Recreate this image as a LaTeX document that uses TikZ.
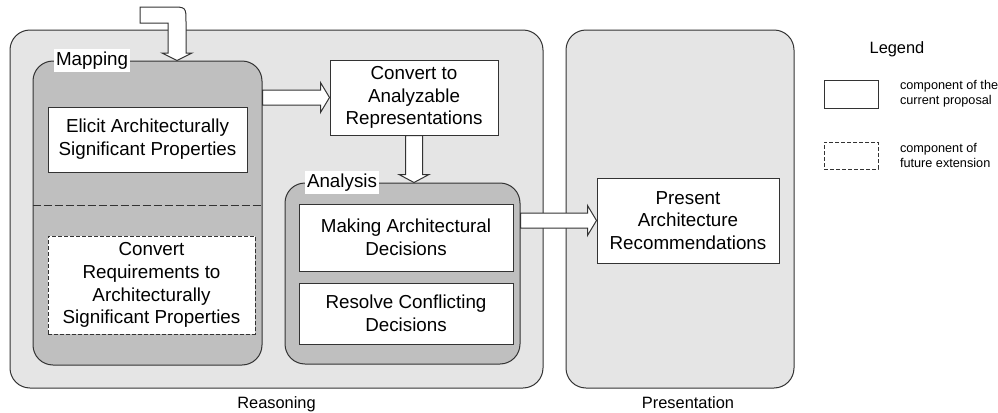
\documentclass[tikz,border=0pt]{standalone}
\usepackage{fontspec}
\setmainfont{Liberation Sans}
\usetikzlibrary{calc,positioning}

\begin{document}
\begin{tikzpicture}[x=0.5pt,y=-0.5pt,line width=0.5pt,
  font=\fontsize{9.4}{11.4}\selectfont,
  stage/.style={draw=black!80,fill=black!10,rounded corners=10pt,inner sep=0pt},
  group/.style={draw=black!80,fill=black!25,rounded corners=10pt,inner sep=0pt},
  comp/.style={draw=black!80,fill=white,align=center,inner sep=0pt},
  future/.style={comp,dash pattern=on 2pt off 1pt},
  tag/.style={fill=white,inner xsep=1pt,inner ysep=1.5pt,anchor=west},
  caption/.style={inner sep=0pt,anchor=north,font=\fontsize{8.2}{10}\selectfont},
  note/.style={inner sep=0pt,align=left,font=\fontsize{6.35}{7.5}\selectfont},
  fatline/.style={draw=black!80,fill=white,line join=miter},
  hfat/.style={fatline,to path={let \p1=(\tikztostart),\p2=(\tikztotarget) in
    (\x1,\y2+3.75pt) -- (\x2-4.5pt,\y2+3.75pt) -- (\x2-4.5pt,\y2+7.5pt) -- (\x2,\y2)
    -- (\x2-4.5pt,\y2-7.5pt) -- (\x2-4.5pt,\y2-3.75pt) -- (\x1,\y2-3.75pt) -- cycle}},
  vfat/.style={fatline,to path={let \p1=(\tikztostart),\p2=(\tikztotarget) in
    (\x2-4.25pt,\y1) -- (\x2-4.25pt,\y2+4pt) -- (\x2-7.5pt,\y2+4pt) -- (\x2,\y2)
    -- (\x2+7.5pt,\y2+4pt) -- (\x2+4.25pt,\y2+4pt) -- (\x2+4.25pt,\y1) -- cycle}}]
  \useasboundingbox (0,0) rectangle (998,413);

  \node[stage,minimum width=266.5pt,minimum height=179pt] (rsn) at (276.5,209) {};
  \node[stage,minimum width=114pt,minimum height=179pt] (prs) at (680,209) {};
  \node[group,minimum width=114.5pt,minimum height=152pt] (map) at (147.5,213) {};
  \node[group,minimum width=117.5pt,minimum height=90.5pt] (ana) at (402.5,273.5) {};
  \draw[black!80,dash pattern=on 4pt off 1.5pt] (map.west |- 0,205) -- (map.east |- 0,205);

  \node[tag] (maptag) at ($(map.north west)+(21,0)$) {Mapping};
  \node[tag] (anatag) at ($(ana.north west)+(20,0)$) {Analysis};

  \node[comp,minimum width=99.5pt,minimum height=32.5pt] (elicit) at (147.5,139.5)
    {Elicit Architecturally\\Significant Properties};
  \node[future,minimum width=103.5pt,minimum height=49pt] (req) at (151.5,285)
    {Convert\\Requirements to\\Architecturally\\Significant Properties};
  \node[comp,minimum width=84pt,minimum height=37.5pt] (conv) at (414,97.5)
    {Convert to\\Analyzable\\Representations};
  \node[comp,minimum width=107pt,minimum height=33.5pt] (make) at (406,237.5)
    {Making Architectural\\Decisions};
  \node[comp,minimum width=107pt,minimum height=30.5pt] (resolve) at (406,313.5)
    {Resolve Conflicting\\Decisions};
  \node[comp,minimum width=91pt,minimum height=42.5pt] (rec) at (688,220.5)
    {Present\\Architecture\\Recommendations};

  \node[caption] (rsnlbl) at ($(rsn.south)+(0,8)$) {Reasoning};
  \node[caption] (prslbl) at ($(prs.south -| rec)+(0,8)$) {Presentation};

  \coordinate (src) at (140,15);
  \coordinate (tip) at ($(map.north)+(29.5,0)$);
  \draw[fatline] (tip) -- (192,53) -- (186,53) -- (186,22) .. controls (186,7) .. (171,7)
    -- (src |- 0,7) -- (src |- 0,23) -- (168,23) -- (168,53) -- (162,53) -- cycle;
  \draw[hfat] (map.east |- conv.west) to (conv.west);
  \draw[vfat] (conv.south) to (conv.south |- ana.north);
  \draw[hfat] (ana.east |- rec.west) to (rec.west);

  \node[font=\fontsize{8.2}{10}\selectfont] (legend) at (897,49) {Legend};
  \node[comp,minimum width=27pt,minimum height=14pt] (key1) at (851,94) {};
  \node[future,minimum width=27pt,minimum height=13.5pt] (key2) at (851,155.5) {};
  \node[note,right=10.5pt of key1] (note1) {component of the\\current proposal};
  \node[note,right=10.5pt of key2] (note2) {component of\\future extension};
\end{tikzpicture}
\end{document}
